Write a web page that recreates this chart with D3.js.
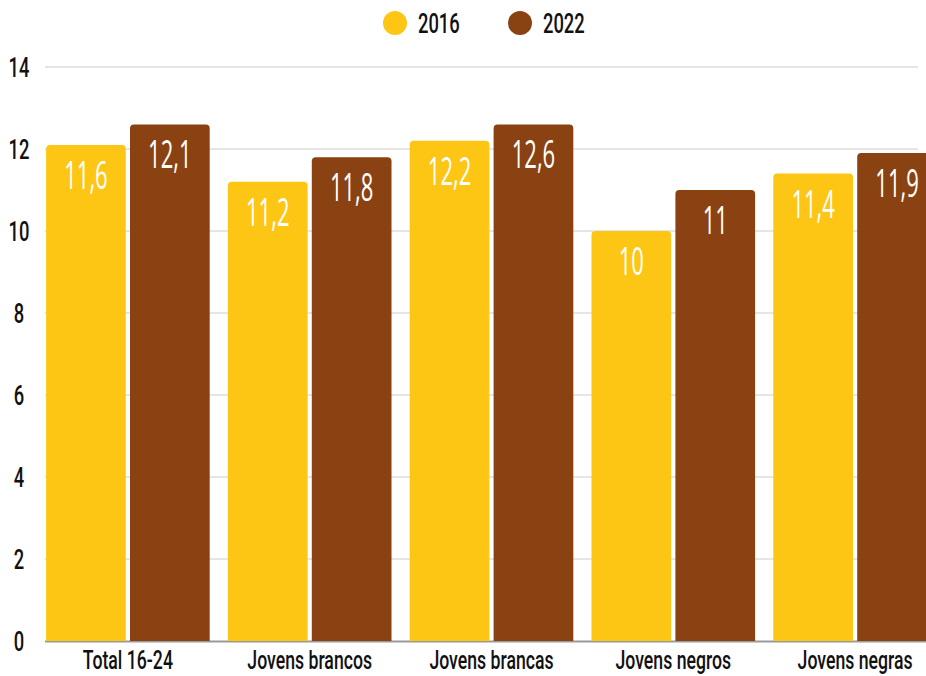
<!DOCTYPE html>
<html><head><meta charset="utf-8">
<script src="https://cdn.jsdelivr.net/npm/d3@7"></script>
<style>
html,body{margin:0;padding:0;background:#fff;overflow:hidden}
svg{display:block}
.ax{font-family:Roboto,"Liberation Sans",sans-serif;font-size:27px;fill:#111;font-weight:500}
.xl{font-size:26px}
.lbl{font-family:"Open Sans",Roboto,sans-serif;font-size:38px;fill:#fff;font-weight:400}
</style></head><body>
<svg id="c" width="926" height="676"></svg>
<script>
const categories = ["Total 16-24","Jovens brancos","Jovens brancas","Jovens negros","Jovens negras"];
const seriesNames = ["2016","2022"];
const values2016 = [12.1,11.2,12.2,10,11.4];
const values2022 = [12.6,11.8,12.6,11,11.9];
const labels2016 = ["11,6","11,2","12,2","10","11,4"];
const labels2022 = ["12,1","11,8","12,6","11","11,9"];
const yTicks = [0,2,4,6,8,10,12,14];
const colors = ["#FDC615","#8B4212"];

const svg = d3.select("#c");
const y = d3.scaleLinear().domain([0,14]).range([641,67]);
const x0 = d3.scaleBand().domain(categories).range([37,946]).paddingInner(0.1).paddingOuter(0.05);
const x1 = d3.scaleBand().domain(seriesNames).range([0,x0.bandwidth()]).paddingInner(0.05);
const SX = 0.68, SL = 0.58;
function txt(sel,x,y,s){ return sel.attr("transform",(d,i)=>`translate(${x(d,i)},${y(d,i)}) scale(${s||SX},1)`); }

// grid
svg.append("g").selectAll("line").data(yTicks.filter(d=>d>0)).join("line")
  .attr("x1",45).attr("x2",918).attr("y1",d=>y(d)).attr("y2",d=>y(d))
  .attr("stroke","#cccccc").attr("stroke-width",1);
svg.append("line").attr("x1",45).attr("x2",926).attr("y1",y(0)+0.5).attr("y2",y(0)+0.5)
  .attr("stroke","#999").attr("stroke-width",2);

// y labels
txt(svg.append("g").selectAll("text").data(yTicks).join("text").attr("class","ax")
  .attr("text-anchor","middle").text(d=>d), ()=>19, d=>y(d)+10);

// bars
const rows = categories.map((c,i)=>({c, v:[values2016[i],values2022[i]], l:[labels2016[i],labels2022[i]]}));
function barPath(x,yTop,w,yBase,r){
  return `M${x},${yBase}V${yTop+r}Q${x},${yTop} ${x+r},${yTop}H${x+w-r}Q${x+w},${yTop} ${x+w},${yTop+r}V${yBase}Z`;
}
const g = svg.append("g").selectAll("g").data(rows).join("g").attr("transform",d=>`translate(${x0(d.c)},0)`);
g.selectAll("path").data(d=>d.v.map((v,j)=>({s:seriesNames[j],v,j}))).join("path")
  .attr("d",d=>barPath(x1(d.s),y(d.v),x1.bandwidth(),y(0),4))
  .attr("fill",d=>colors[d.j]);
txt(g.selectAll("text").data(d=>d.v.map((v,j)=>({s:seriesNames[j],v,j,l:d.l[j]}))).join("text")
  .attr("class","lbl").attr("text-anchor","middle").text(d=>d.l),
  d=>x1(d.s)+x1.bandwidth()/2, d=>y(d.v)+44, SL);

// x labels
txt(svg.append("g").selectAll("text").data(categories).join("text").attr("class","ax xl")
  .attr("text-anchor","middle").text(d=>d), d=>x0(d)+x0.bandwidth()/2, ()=>669);

// legend
const lx=[395,520];
const leg = svg.append("g");
seriesNames.forEach((s,i)=>{
  leg.append("circle").attr("cx",lx[i]).attr("cy",23).attr("r",12).attr("fill",colors[i]);
  leg.append("text").attr("class","ax").attr("transform",`translate(${lx[i]+23},33) scale(${SX},1)`).text(s);
});
</script></body></html>
